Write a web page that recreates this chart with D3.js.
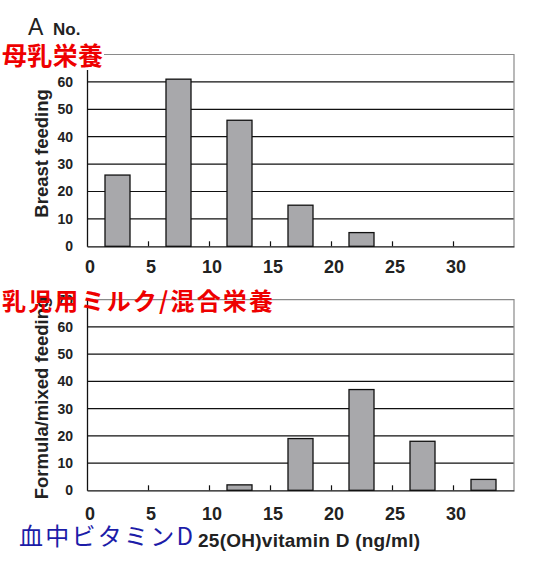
<!DOCTYPE html>
<html>
<head>
<meta charset="utf-8">
<script src="https://cdn.jsdelivr.net/npm/d3@7"></script>
<style>
  body { margin: 0; background: #fff; }
  svg { display: block; }
  .tick text { font-family: "Liberation Sans", Arial, sans-serif; }
</style>
</head>
<body>
<div class="container"></div>
<script>
// bins of 25(OH)vitamin D, ng/ml
var bins = ['0-5', '5-10', '10-15', '15-20', '20-25', '25-30', '30-35']
var breastCounts = [26, 61, 46, 15, 5, 0, 0]
var formulaCounts = [0, 0, 2, 19, 37, 18, 4]
var yTicks = [0, 10, 20, 30, 40, 50, 60, 70]
var xTicks = [0, 5, 10, 15, 20, 25, 30]
var xTickMarks = [5, 10, 15, 20, 25, 30]

var width = 542, height = 568
var svg = d3.select('.container').append('svg')
  .attr('width', width).attr('height', height)

var left = 87, right = 514

function drawPanel(counts, top, bottom, title, labelPad){
  var g = svg.append('g')

  var x = d3.scaleBand().domain(bins).range([left, right])
    .paddingInner(0.59).paddingOuter(0.295)
  var xv = d3.scaleLinear().domain([0, 35]).range([left, right])
  var y = d3.scaleLinear().domain([0, 70]).range([bottom, top])

  // gridlines
  g.selectAll('line.grid').data(yTicks.filter(d => d > 0 && d < 70)).join('line')
    .attr('class', 'grid')
    .attr('x1', left).attr('x2', right)
    .attr('y1', d => y(d)).attr('y2', d => y(d))
    .attr('stroke', '#111').attr('stroke-width', 1.2)

  // top + right frame
  g.append('path')
    .attr('d', `M${left},${y(70)} H${right} V${y(0)}`)
    .attr('fill', 'none').attr('stroke', '#8a8a8a').attr('stroke-width', 1.2)

  // bars
  g.selectAll('rect.bar').data(counts.map((v, i) => ({bin: bins[i], v})).filter(d => d.v > 0))
    .join('rect')
    .attr('class', 'bar')
    .attr('x', d => x(d.bin))
    .attr('width', x.bandwidth())
    .attr('y', d => y(d.v))
    .attr('height', d => y(0) - y(d.v))
    .attr('fill', '#a8a8ab').attr('stroke', '#111').attr('stroke-width', 1.3)

  // y axis
  var yAxis = g.append('g').attr('transform', `translate(${left},0)`)
    .call(d3.axisLeft(y).tickValues(yTicks).tickSize(0).tickPadding(14))
  yAxis.select('.domain').attr('stroke', '#111').attr('stroke-width', 1.3)
  yAxis.selectAll('text').attr('font-size', 14).attr('font-weight', 'bold').attr('fill', '#222')

  // x axis: ticks point up, labels well below
  var xAxis = g.append('g').attr('transform', `translate(0,${y(0)})`)
    .call(d3.axisBottom(xv).tickValues(xTickMarks).tickSizeInner(-5).tickSizeOuter(0).tickFormat(''))
  xAxis.select('.domain').attr('stroke', '#111').attr('stroke-width', 1.3)
  xAxis.selectAll('.tick line').attr('stroke', '#111').attr('stroke-width', 1.2)

  g.selectAll('text.xlab').data(xTicks).join('text')
    .attr('class', 'xlab')
    .attr('x', d => xv(d) + 3)
    .attr('y', y(0) + labelPad)
    .attr('text-anchor', 'middle')
    .attr('font-family', '"Liberation Sans", Arial, sans-serif')
    .attr('font-weight', 'bold').attr('font-size', 18).attr('fill', '#222')
    .text(d => d)

  // y title
  g.append('text')
    .attr('transform', `translate(48,${(top + bottom) / 2 + 3}) rotate(-90)`)
    .attr('text-anchor', 'middle')
    .attr('font-family', '"Liberation Sans", Arial, sans-serif')
    .attr('font-weight', 'bold').attr('font-size', 18.5).attr('fill', '#222')
    .text(title)

  return g
}

drawPanel(breastCounts, 54.5, 246.3, 'Breast feeding', 27)
drawPanel(formulaCounts, 299.7, 490.3, 'Formula/mixed feeding', 30)

// panel letter
svg.append('text').attr('x', 28).attr('y', 35)
  .attr('font-family', '"Liberation Sans", Arial, sans-serif')
  .attr('font-size', 23).attr('fill', '#222').text('A')
svg.append('text').attr('x', 53).attr('y', 35)
  .attr('font-family', '"Liberation Sans", Arial, sans-serif')
  .attr('font-weight', 'bold').attr('font-size', 17).attr('fill', '#222').text('No.')

// x title
svg.append('text').attr('x', 198).attr('y', 547)
  .attr('font-family', '"Liberation Sans", Arial, sans-serif')
  .attr('font-weight', 'bold').attr('font-size', 19).attr('fill', '#222')
  .attr('textLength', 222)
  .text('25(OH)vitamin D (ng/ml)')

// Japanese annotations
var jp = '"Noto Sans CJK JP", sans-serif'
svg.append('rect').attr('x', 0).attr('y', 44).attr('width', 104).attr('height', 26).attr('fill', '#fff')
svg.append('text').attr('x', 2).attr('y', 65)
  .attr('font-family', jp).attr('font-size', 25).attr('font-weight', 'bold').attr('fill', '#ee0000')
  .attr('textLength', 101)
  .text('母乳栄養')
svg.append('text').attr('x', 2).attr('y', 310)
  .attr('font-family', jp).attr('font-size', 24).attr('font-weight', 'bold').attr('fill', '#ee0000')
  .attr('textLength', 271)
  .text('乳児用ミルク/混合栄養')
svg.append('text').attr('x', 19).attr('y', 545)
  .attr('font-family', jp).attr('font-size', 24).attr('fill', '#1c1ca8')
  .attr('textLength', 174)
  .text('血中ビタミンD')
</script>
</body>
</html>
